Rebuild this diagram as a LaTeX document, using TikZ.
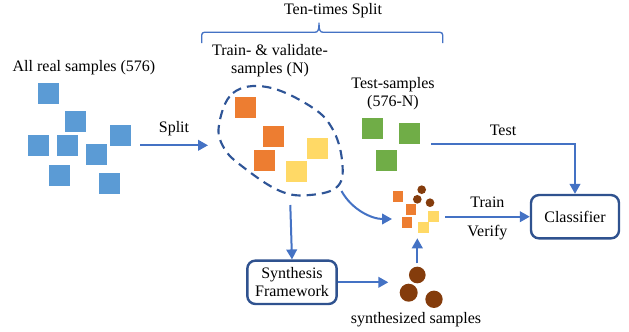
\documentclass[tikz,border=0pt]{standalone}
\usepackage{fontspec}
\setmainfont{Liberation Serif}
\newfontfamily\tnr{Liberation Serif}
\usetikzlibrary{arrows.meta}
\definecolor{sqblue}{HTML}{5B9BD5}
\definecolor{sqorange}{HTML}{ED7D31}
\definecolor{sqyellow}{HTML}{FFD966}
\definecolor{sqgreen}{HTML}{70AD47}
\definecolor{brownc}{HTML}{843C0C}
\definecolor{arrblue}{HTML}{4472C4}
\definecolor{darkblue}{HTML}{2F5597}
\definecolor{boxblue}{HTML}{2F528F}
\tikzset{
  sq/.style={rectangle, inner sep=0pt, minimum size=15.75pt},
  bsq/.style={sq, fill=sqblue},
  osq/.style={sq, fill=sqorange},
  ysq/.style={sq, fill=sqyellow},
  gsq/.style={sq, fill=sqgreen},
  smallo/.style={sq, fill=sqorange, minimum size=7.8pt},
  smally/.style={sq, fill=sqyellow, minimum size=7.8pt},
  dot/.style={circle, inner sep=0pt, fill=brownc},
  lbl/.style={font=\tnr\fontsize{12pt}{13.5pt}\selectfont, inner sep=0pt, align=center},
  arr/.style={draw=arrblue, line width=1.5pt, -{Triangle[length=7.5pt,width=8pt]}},
  roundbox/.style={draw=boxblue, line width=1.8pt, rounded corners=6pt, fill=white, inner sep=0pt, align=center, font=\tnr\fontsize{12pt}{13.5pt}\selectfont},
}
\begin{document}
\begin{tikzpicture}[x=0.75pt, y=-0.75pt]
\useasboundingbox (0,0) rectangle (629,332);
% labels
\node[lbl] (allreal) at (84,68) {All real samples (576)};
\node[lbl] (tenx) at (333,11) {Ten-times Split};
\node[lbl] (trainval) at (270,61) {Train- \& validate-\\samples (N)};
\node[lbl] (testsamp) at (393,94) {Test-samples\\(576-N)};
\node[lbl] (synthlbl) at (416,320) {synthesized samples};
% brace
\draw[arrblue, line width=1pt, rounded corners=2pt] (201.7,43) -- (201.7,32.3) -- (312,32.3)
  .. controls (318,32.3) and (319,30) .. (319,21)
  .. controls (319,30) and (320,32.3) .. (326,32.3) -- (442.7,32.3) -- (442.7,43);
% blue squares
\node[bsq] (b1) at (48.5,93.7) {};
\node[bsq] (b2) at (75.5,121) {};
\node[bsq] (b3) at (38.5,145) {};
\node[bsq] (b4) at (67,145) {};
\node[bsq] (b5) at (96,154) {};
\node[bsq] (b6) at (120.5,135) {};
\node[bsq] (b7) at (59.5,175) {};
\node[bsq] (b8) at (109.5,183) {};
% split arrow
\coordinate (splitA) at (140,145.3);
\coordinate (splitB) at (208,145.3);
\draw[arr] (splitA) -- node[lbl, above=6pt] (splitlbl) {Split} (splitB);
% dashed blob
\draw[darkblue, line width=1.6pt, dash pattern=on 7pt off 4.5pt]
  plot[smooth cycle, tension=0.65] coordinates {(219,125) (233,93) (267,87) (310,106) (332,128) (342,160) (338,186) (310,195) (280,191) (243,167) (224,148)};
% orange / yellow squares
\node[osq] (o1) at (245.5,107.5) {};
\node[osq] (o2) at (273,136) {};
\node[osq] (o3) at (264.5,160) {};
\node[ysq] (y1) at (317,148.5) {};
\node[ysq] (y2) at (296.5,171) {};
% green squares
\node[gsq] (g1) at (372.5,128.5) {};
\node[gsq] (g2) at (409.5,133) {};
\node[gsq] (g3) at (386.5,160) {};
% mixed set
\node[smallo] (s1) at (397.7,196.3) {};
\node[smallo] (s2) at (411,209.3) {};
\node[smallo] (s3) at (407,222.3) {};
\node[smally] (sy1) at (433.3,216.3) {};
\node[smally] (sy2) at (423.3,227.3) {};
\node[dot, minimum size=6.5pt] (c1) at (421.7,189.7) {};
\node[dot, minimum size=6.5pt] (c2) at (417.3,199.3) {};
\node[dot, minimum size=6.5pt] (c3) at (430,202.7) {};
% big circles
\node[dot, minimum size=12.5pt] (C1) at (417.3,275) {};
\node[dot, minimum size=13.5pt] (C2) at (408.7,292.7) {};
\node[dot, minimum size=13pt] (C3) at (434,299.3) {};
% boxes
\node[roundbox, minimum width=67pt, minimum height=32.5pt] (syn) at (292,282.3) {Synthesis\\Framework};
\node[roundbox, minimum width=66pt, minimum height=32.5pt] (cls) at (575,216.7) {Classifier};
% connectors
\coordinate (testA) at (431,144.3);
\draw[arr] (testA) -- node[lbl, above=6pt] (testlbl) {Test} (575,144.3) -- (cls.north);
\coordinate (trainA) at (445,216.7);
\draw[arr] (trainA) -- node[lbl, above=6pt] (trainlbl) {Train} node[lbl, below=6pt] (verifylbl) {Verify} (cls.west);
\coordinate (upA) at (417.3,263.3);
\coordinate (upB) at (417.3,238.3);
\draw[arr] (upA) -- (upB);
\coordinate (synOut) at (388.3,282.3);
\draw[arr] (syn.east) -- (synOut);
\coordinate (blobBot) at (290.3,205);
\draw[arr] (blobBot) -- (syn.north);
\coordinate (blobOut) at (341.5,191);
\coordinate (mixIn) at (392,219);
\draw[arr] (blobOut) .. controls (352,210) and (372,219) .. (mixIn);
\end{tikzpicture}
\end{document}
